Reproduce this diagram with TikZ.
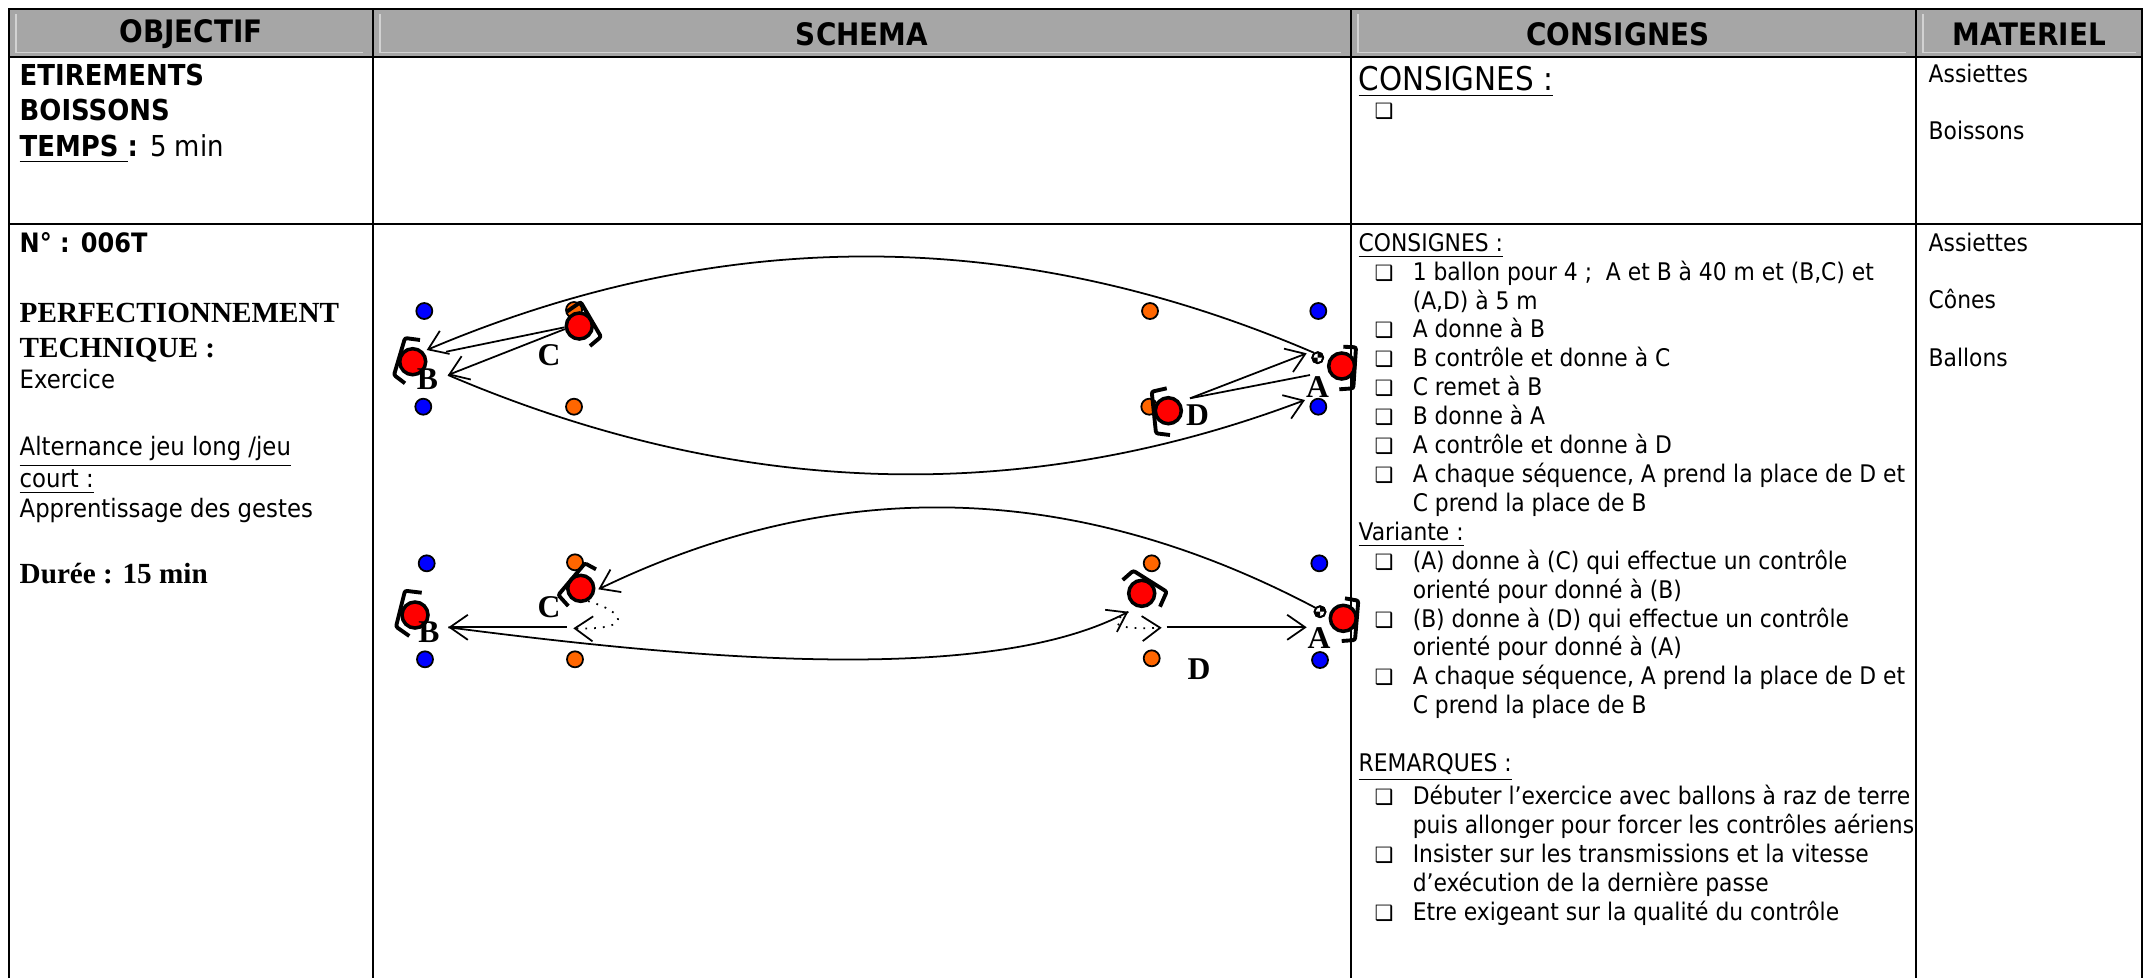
\documentclass[tikz,border=0pt]{standalone}
\usepackage{fontspec}
\setmainfont{DejaVu Sans Condensed}
\newfontfamily\timesbf{Liberation Serif}
\newfontfamily\symbole{DejaVu Sans}
\usetikzlibrary{arrows.meta}

\definecolor{gristitre}{HTML}{A6A6A6}
\definecolor{grisclair}{HTML}{D2D2D2}
\definecolor{rougejoueur}{HTML}{FF0000}
\definecolor{bleuplot}{HTML}{0000FF}
\definecolor{orangeplot}{HTML}{FF6600}

\newcommand{\puce}{\makebox[5.4mm][l]{\hspace{1.6mm}{\symbole\fontsize{6}{6}\selectfont ❑}}}
\newcommand{\retrait}{\hspace*{5.4mm}}

\tikzset{
  trait/.style={line width=0.6pt},
  titre/.style={font=\bfseries\fontsize{8.8}{10}\selectfont,inner sep=0pt},
  texte/.style={font=\fontsize{6.9}{8.22}\selectfont,align=left,inner sep=0pt},
  gauche/.style={font=\fontsize{7.2}{8.6}\selectfont,inner sep=0pt,anchor=base west},
  gras/.style={font=\bfseries\fontsize{8.2}{10}\selectfont,inner sep=0pt,anchor=base west},
  romain/.style={font=\timesbf\bfseries\fontsize{8.3}{10}\selectfont,inner sep=0pt,anchor=base west},
  lettre/.style={font=\timesbf\bfseries\fontsize{9}{9}\selectfont,inner sep=0pt},
  joueur/.style={circle,draw,line width=1pt,fill=rougejoueur,minimum size=0.26cm,inner sep=0pt},
  plotbleu/.style={circle,draw,line width=0.5pt,fill=bleuplot,minimum size=0.16cm,inner sep=0pt},
  plotorange/.style={plotbleu,fill=orangeplot},
  ballon/.style={circle,draw,line width=0.5pt,fill=white,minimum size=0.11cm,inner sep=0pt},
  corps/.style={line width=1.1pt,rounded corners=0.6pt},
  passe/.style={line width=0.5pt,-{Straight Barb[length=1.8mm,width=2.5mm]}},
  ligne/.style={line width=0.5pt},
  conduite/.style={passe,dotted},
}

\begin{document}
\begin{tikzpicture}[x=0.01cm,y=-0.01cm]
  \useasboundingbox (0,0) rectangle (2149,978);
  % tableau
  \fill[gristitre] (9,9) rectangle (2142,57);
  \draw[grisclair,line width=0.4pt] (16,14) -- (16,52.7) -- (363,52.7) (380,14) -- (380,52.7) -- (1341,52.7)
    (1358,14) -- (1358,52.7) -- (1906,52.7) (1923,14) -- (1923,52.7) -- (2136,52.7);
  \draw[trait] (9,978) -- (9,9) -- (2142,9) -- (2142,978);
  \draw[trait] (9,57) -- (2142,57) (9,224) -- (2142,224);
  \draw[trait] (373,9) -- (373,978) (1351,9) -- (1351,978) (1916,9) -- (1916,978);
  \node[titre] (hobj) at (191,34) {OBJECTIF};
  \node[titre] (hsch) at (862,34) {SCHEMA};
  \node[titre] (hcons) at (1618,34) {CONSIGNES};
  \node[titre] (hmat) at (2029,34) {MATERIEL};

  % ligne 1
  \node[gras] (etir) at (19,85) {ETIREMENTS};
  \node[gras] (boiss) at (19,120.5) {BOISSONS};
  \node[gras] (temps) at (19,156) {\underline{TEMPS }: \mdseries 5 min};
  \node[texte,anchor=base west,font=\fontsize{9.3}{11}\selectfont] (cons1) at (1358,90) {\underline{CONSIGNES :}};
  \node[texte,anchor=base west] (puce1) at (1358,118) {\puce};
  \node[texte,anchor=north west] (mat1) at (1928,63) {Assiettes\\[8.22pt]Boissons};

  % ligne 2
  \node[gras,font=\bfseries\fontsize{7.6}{9}\selectfont] (numero) at (19,252) {N° : 006T};
  \node[romain] (perf) at (19,322) {PERFECTIONNEMENT};
  \node[romain] (techn) at (19,357) {TECHNIQUE :};
  \node[gauche] (exo) at (19,388) {Exercice};
  \node[gauche] (alt) at (19,455) {\underline{Alternance jeu long /jeu}};
  \node[gauche] (court) at (19,487) {\underline{court :}};
  \node[gauche] (appr) at (19,517) {Apprentissage des gestes};
  \node[romain] (duree) at (19,583) {Durée : 15 min};

  \node[texte,anchor=north west] (cons2) at (1358,232.5) {\underline{CONSIGNES :}\\
    \puce 1 ballon pour 4 ;\ \ A et B à 40 m et (B,C) et\\
    \retrait (A,D) à 5 m\\
    \puce A donne à B\\
    \puce B contrôle et donne à C\\
    \puce C remet à B\\
    \puce B donne à A\\
    \puce A contrôle et donne à D\\
    \puce A chaque séquence, A prend la place de D et\\
    \retrait C prend la place de B\\
    \underline{Variante :}\\
    \puce (A) donne à (C) qui effectue un contrôle\\
    \retrait orienté pour donné à (B)\\
    \puce (B) donne à (D) qui effectue un contrôle\\
    \retrait orienté pour donné à (A)\\
    \puce A chaque séquence, A prend la place de D et\\
    \retrait C prend la place de B\\[8.22pt]
    \underline{REMARQUES :}\\
    \puce Débuter l’exercice avec ballons à raz de terre\\
    \retrait puis allonger pour forcer les contrôles aériens\\
    \puce Insister sur les transmissions et la vitesse\\
    \retrait d’exécution de la dernière passe\\
    \puce Etre exigeant sur la qualité du contrôle};
  \node[texte,anchor=north west] (mat2) at (1928,232) {Assiettes\\[8.22pt]Cônes\\[8.22pt]Ballons};

  % schema 1 : A donne a B, B-C, B donne a A, A-D
  \node[plotbleu] (pb1) at (424.3,311) {};
  \node[plotbleu] (pb2) at (423.3,406.7) {};
  \node[plotbleu] (pb3) at (1318.3,311) {};
  \node[plotbleu] (pb4) at (1318.3,406.7) {};
  \node[plotorange] (po1) at (574,310) {};
  \node[plotorange] (po2) at (574,406.7) {};
  \node[plotorange] (po3) at (1150,311) {};
  \node[plotorange] (po4) at (1149.3,406.7) {};
  \node[joueur] (jB1) at (412.7,361.7) {};
  \node[joueur] (jC1) at (579.3,326) {};
  \node[joueur] (jA1) at (1341.7,366) {};
  \node[joueur] (jD1) at (1168.3,410.7) {};
  \node[ballon] (bal1) at (1317.7,357.7) {};
  \fill (bal1.center) -- +(5.5,0) arc[start angle=0,end angle=-90,radius=5.5] -- cycle;
  \fill (bal1.center) -- +(-5.5,0) arc[start angle=180,end angle=90,radius=5.5] -- cycle;
  \draw[line width=0.5pt] (bal1.center) circle[radius=5.5];
  \draw[corps] (420,340) -- (405,338) -- (394,375) -- (405,383.3);
  \draw[corps] (566.7,311.7) -- (580.7,302) -- (601,336.7) -- (590,346);
  \draw[corps] (1343.3,346.7) -- (1356,347.3) -- (1353.3,388.3) -- (1339.3,389.3);
  \draw[corps] (1166.7,388.3) -- (1151.7,391.7) -- (1156,433.3) -- (1170,435);
  \coordinate (arB1) at (426.7,350);
  \coordinate (reB1) at (446,351.7);
  \coordinate (deB1) at (448,375);
  \coordinate (deD1) at (1190,398.3);
  \coordinate (arA1) at (1306.7,353.3);
  \coordinate (arA1b) at (1310,375);
  \coordinate (arA1c) at (1305,400);
  \draw[passe] (bal1.128) .. controls (1016,225) and (722,225) .. (arB1);
  \draw[ligne] (reB1) -- (jC1.185);
  \draw[passe] (jC1.192) -- (deB1);
  \draw[passe] (deB1) .. controls (736,498) and (1022,507) .. (arA1c);
  \draw[passe] (deD1) -- (arA1);
  \draw[ligne] (deD1) -- (arA1b);
  \node[lettre] (lB1) at (427.5,379) {B};
  \node[lettre] (lC1) at (549,355) {C};
  \node[lettre] (lA1) at (1317.5,387.5) {A};
  \node[lettre] (lD1) at (1197.5,415) {D};

  % schema 2 : variante avec controles orientes
  \node[plotbleu] (pb5) at (426.7,563.3) {};
  \node[plotbleu] (pb6) at (425,659.3) {};
  \node[plotbleu] (pb7) at (1319.3,563.3) {};
  \node[plotbleu] (pb8) at (1320,660) {};
  \node[plotorange] (po5) at (575,562.3) {};
  \node[plotorange] (po6) at (575,659.3) {};
  \node[plotorange] (po7) at (1151.7,563.3) {};
  \node[plotorange] (po8) at (1151.7,658.3) {};
  \node[joueur] (jB2) at (415,615) {};
  \node[joueur] (jC2) at (580.7,588.3) {};
  \node[joueur] (jD2) at (1141.7,593.3) {};
  \node[joueur] (jA2) at (1343.3,618.3) {};
  \node[ballon] (bal2) at (1320,611.7) {};
  \fill (bal2.center) -- +(5.5,0) arc[start angle=0,end angle=-90,radius=5.5] -- cycle;
  \fill (bal2.center) -- +(-5.5,0) arc[start angle=180,end angle=90,radius=5.5] -- cycle;
  \draw[line width=0.5pt] (bal2.center) circle[radius=5.5];
  \draw[corps] (421.7,592.7) -- (405,590.7) -- (396,626.7) -- (409.3,636);
  \draw[corps] (596,569.3) -- (585,563.3) -- (558.3,595) -- (568.3,606);
  \draw[corps] (1122.7,580) -- (1133.3,570.7) -- (1166.7,591.7) -- (1160,606.7);
  \draw[corps] (1345,598.3) -- (1358.3,600.7) -- (1355,640) -- (1341.7,641);
  \coordinate (arC2) at (598.3,589.3);
  \coordinate (coC2) at (573.3,628.3);
  \coordinate (reC2) at (566.7,627.3);
  \coordinate (arB2) at (448.3,627.3);
  \coordinate (arD2) at (1128.3,611.7);
  \coordinate (coD2) at (1161.7,627.7);
  \coordinate (reD2) at (1166.7,627.3);
  \coordinate (arA2) at (1306.7,627.3);
  \draw[passe] (bal2.140) .. controls (1073,480) and (835,475) .. (arC2);
  \draw[conduite] (jC2.300) .. controls (625,612) and (635,630) .. (coC2);
  \draw[passe] (reC2) -- (arB2);
  \draw[passe] (arB2) .. controls (700,660) and (990,685) .. (arD2);
  \draw[conduite] (arD2) .. controls (1110,622) and (1110,630) .. (coD2);
  \draw[passe] (reD2) -- (arA2);
  \node[lettre] (lB2) at (429,631.7) {B};
  \node[lettre] (lC2) at (549,606.7) {C};
  \node[lettre] (lA2) at (1319,638) {A};
  \node[lettre] (lD2) at (1199,669) {D};
\end{tikzpicture}
\end{document}
